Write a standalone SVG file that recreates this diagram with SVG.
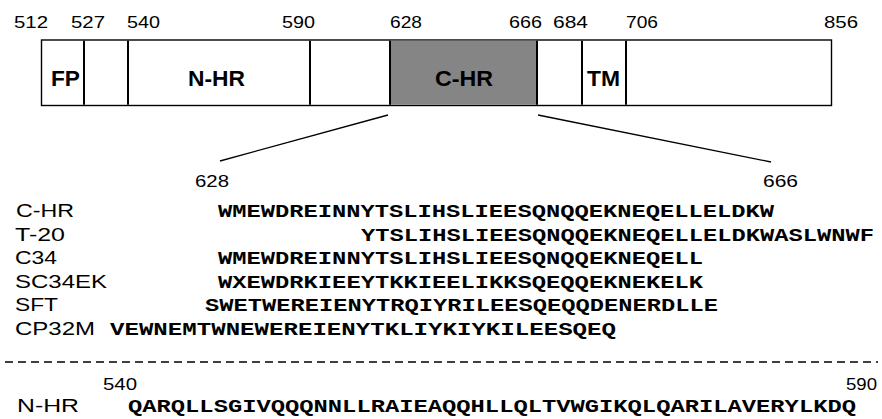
<svg xmlns="http://www.w3.org/2000/svg" width="882" height="419" viewBox="0 0 882 419">
  <style>
    .num { font-family: "Liberation Sans", Arial, sans-serif; font-size: 16.5px; fill: #000; }
    .dom { font-family: "Liberation Sans", Arial, sans-serif; font-size: 22px; font-weight: bold; fill: #000; }
    .lab { font-family: "Liberation Sans", Arial, sans-serif; font-size: 18px; fill: #000; }
    .seq { font-family: "Courier New", "Liberation Mono", monospace; font-size: 18.5px; font-weight: bold; fill: #000; }
    .frame { fill: #fff; stroke: #000; stroke-width: 1.4; }
    .div { stroke: #000; stroke-width: 2; }
    .conn { stroke: #000; stroke-width: 1.3; fill: none; }
  </style>
  <rect width="882" height="419" fill="#fff"/>

  <!-- residue positions above the domain bar -->
  <g id="positions">
    <text class="num" x="14" y="28" textLength="34" lengthAdjust="spacingAndGlyphs">512</text>
    <text class="num" x="71" y="28" textLength="34" lengthAdjust="spacingAndGlyphs">527</text>
    <text class="num" x="127" y="28" textLength="33" lengthAdjust="spacingAndGlyphs">540</text>
    <text class="num" x="282" y="28" textLength="33" lengthAdjust="spacingAndGlyphs">590</text>
    <text class="num" x="390" y="28" textLength="32" lengthAdjust="spacingAndGlyphs">628</text>
    <text class="num" x="509" y="28" textLength="33" lengthAdjust="spacingAndGlyphs">666</text>
    <text class="num" x="553" y="28" textLength="35" lengthAdjust="spacingAndGlyphs">684</text>
    <text class="num" x="626" y="28" textLength="32" lengthAdjust="spacingAndGlyphs">706</text>
    <text class="num" x="824" y="28" textLength="34" lengthAdjust="spacingAndGlyphs">856</text>
  </g>

  <!-- domain bar -->
  <g id="bar">
    <rect class="frame" x="41.5" y="40" width="790" height="65.5"/>
  </g>
  <g id="chr-domain">
    <rect x="390" y="40.7" width="147" height="64.1" fill="#858585"/>
    <text class="dom" x="435" y="86" textLength="58" lengthAdjust="spacingAndGlyphs">C-HR</text>
  </g>
  <g id="fp-domain">
    <text class="dom" x="51" y="86" textLength="29" lengthAdjust="spacingAndGlyphs">FP</text>
  </g>
  <g id="nhr-domain">
    <text class="dom" x="188" y="86" textLength="57" lengthAdjust="spacingAndGlyphs">N-HR</text>
  </g>
  <g id="tm-domain">
    <text class="dom" x="587" y="86" textLength="33" lengthAdjust="spacingAndGlyphs">TM</text>
  </g>
  <g id="dividers">
    <line class="div" x1="84" y1="40.7" x2="84" y2="104.8"/>
    <line class="div" x1="128" y1="40.7" x2="128" y2="104.8"/>
    <line class="div" x1="310" y1="40.7" x2="310" y2="104.8"/>
    <line class="div" x1="390" y1="40.7" x2="390" y2="104.8"/>
    <line class="div" x1="537" y1="40.7" x2="537" y2="104.8"/>
    <line class="div" x1="582" y1="40.7" x2="582" y2="104.8"/>
    <line class="div" x1="626" y1="40.7" x2="626" y2="104.8"/>
  </g>

  <!-- expansion lines from the C-HR domain -->
  <g id="connectors">
    <line class="conn" x1="388" y1="115" x2="220" y2="161"/>
    <line class="conn" x1="538" y1="115" x2="771" y2="162"/>
  </g>

  <g id="chr-range">
    <text class="num" x="195" y="187" textLength="34" lengthAdjust="spacingAndGlyphs">628</text>
    <text class="num" x="763" y="187" textLength="35" lengthAdjust="spacingAndGlyphs">666</text>
  </g>

  <!-- peptide sequences -->
  <g id="seq-chr">
    <text class="lab" x="16" y="217" textLength="58" lengthAdjust="spacingAndGlyphs">C-HR</text>
    <text class="seq" x="218" y="217" textLength="556" lengthAdjust="spacingAndGlyphs">WMEWDREINNYTSLIHSLIEESQNQQEKNEQELLELDKW</text>
  </g>
  <g id="seq-t20">
    <text class="lab" x="15" y="240.5" textLength="50" lengthAdjust="spacingAndGlyphs">T-20</text>
    <text class="seq" x="361" y="240.5" textLength="513" lengthAdjust="spacingAndGlyphs">YTSLIHSLIEESQNQQEKNEQELLELDKWASLWNWF</text>
  </g>
  <g id="seq-c34">
    <text class="lab" x="15" y="264" textLength="42" lengthAdjust="spacingAndGlyphs">C34</text>
    <text class="seq" x="218" y="264" textLength="485" lengthAdjust="spacingAndGlyphs">WMEWDREINNYTSLIHSLIEESQNQQEKNEQELL</text>
  </g>
  <g id="seq-sc34ek">
    <text class="lab" x="15" y="287.5" textLength="92" lengthAdjust="spacingAndGlyphs">SC34EK</text>
    <text class="seq" x="218" y="287.5" textLength="485" lengthAdjust="spacingAndGlyphs">WXEWDRKIEEYTKKIEELIKKSQEQQEKNEKELK</text>
  </g>
  <g id="seq-sft">
    <text class="lab" x="15" y="311" textLength="43" lengthAdjust="spacingAndGlyphs">SFT</text>
    <text class="seq" x="205" y="311" textLength="513" lengthAdjust="spacingAndGlyphs">SWETWEREIENYTRQIYRILEESQEQQDENERDLLE</text>
  </g>
  <g id="seq-cp32m">
    <text class="lab" x="15" y="334.5" textLength="80" lengthAdjust="spacingAndGlyphs">CP32M</text>
    <text class="seq" x="110" y="334.5" textLength="506" lengthAdjust="spacingAndGlyphs">VEWNEMTWNEWEREIENYTKLIYKIYKILEESQEQ</text>
  </g>

  <!-- separator -->
  <line x1="5" y1="362" x2="878" y2="362" stroke="#000" stroke-width="1.5" stroke-dasharray="8 5"/>

  <g id="seq-nhr">
    <text class="num" x="103" y="390" textLength="34" lengthAdjust="spacingAndGlyphs">540</text>
    <text class="num" x="846" y="390" textLength="31" lengthAdjust="spacingAndGlyphs">590</text>
    <text class="lab" x="17" y="412" textLength="62" lengthAdjust="spacingAndGlyphs">N-HR</text>
    <text class="seq" x="128" y="412" textLength="728" lengthAdjust="spacingAndGlyphs">QARQLLSGIVQQQNNLLRAIEAQQHLLQLTVWGIKQLQARILAVERYLKDQ</text>
  </g>
</svg>
